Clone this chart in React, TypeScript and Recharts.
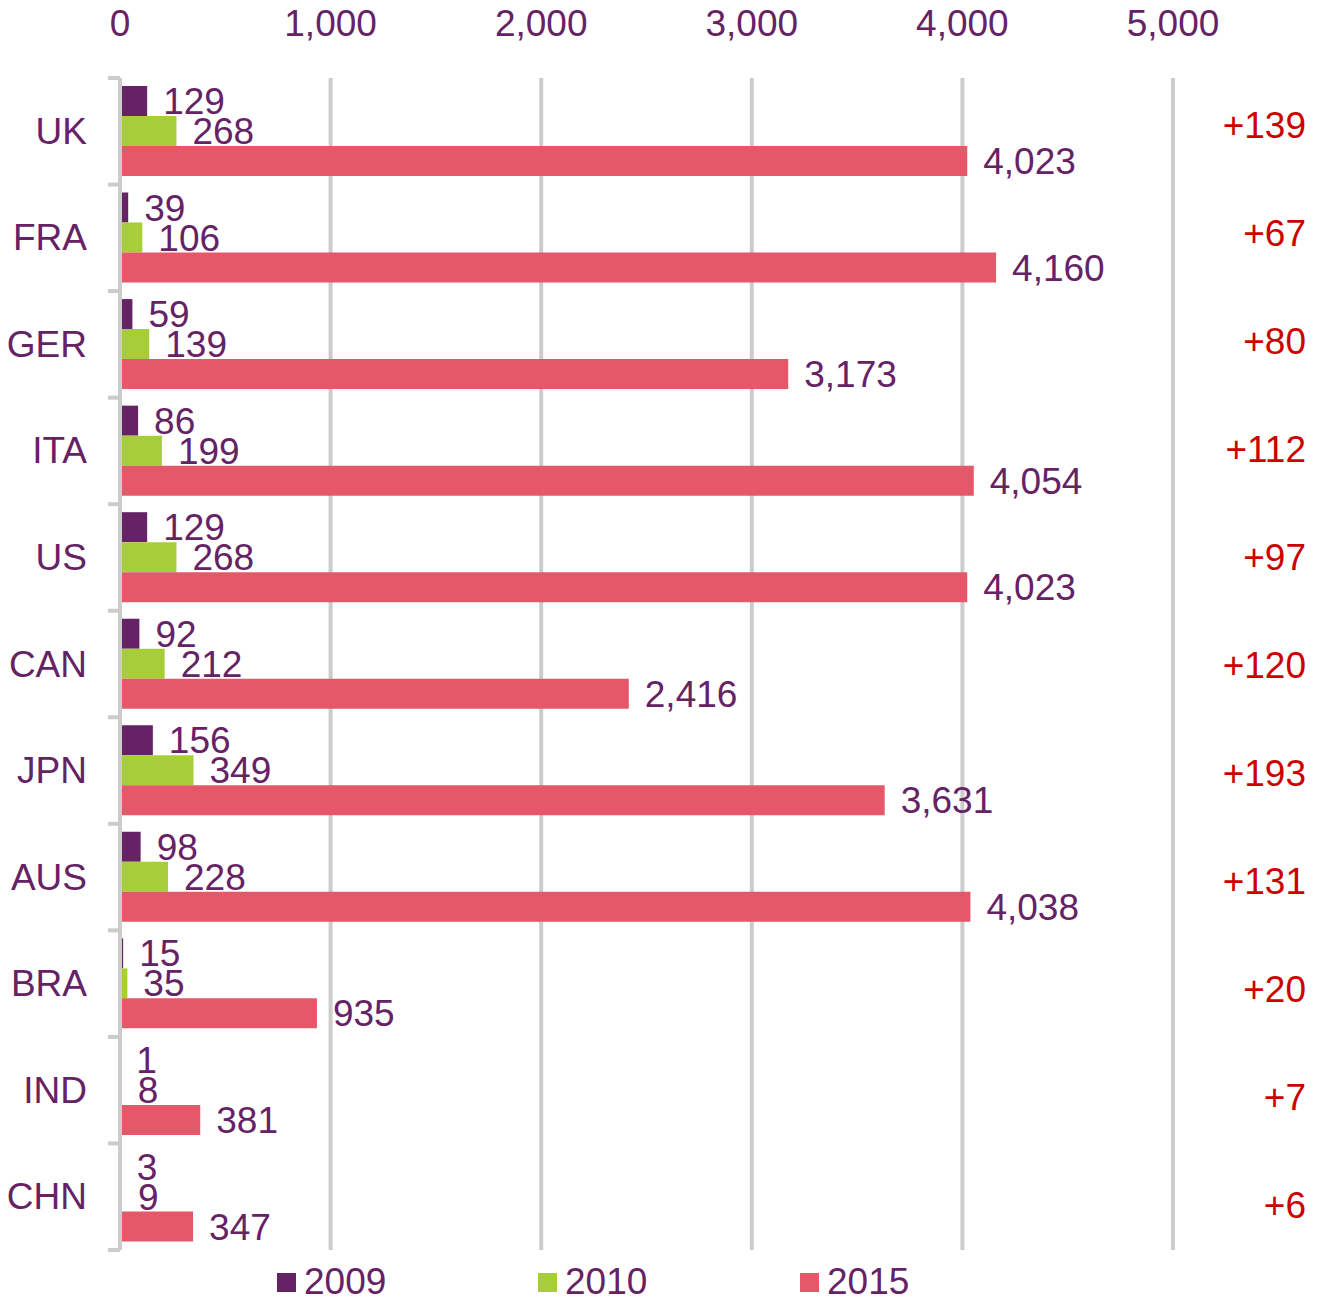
import React from "react";
import { BarChart, Bar, XAxis, YAxis, CartesianGrid, LabelList, Legend } from "recharts";

const countries = ["UK", "FRA", "GER", "ITA", "US", "CAN", "JPN", "AUS", "BRA", "IND", "CHN"];
const values2009 = [129, 39, 59, 86, 129, 92, 156, 98, 15, 1, 3];
const values2010 = [268, 106, 139, 199, 268, 212, 349, 228, 35, 8, 9];
const values2015 = [4023, 4160, 3173, 4054, 4023, 2416, 3631, 4038, 935, 381, 347];
const changeLabels = ["+139", "+67", "+80", "+112", "+97", "+120", "+193", "+131", "+20", "+7", "+6"];
const xTicks = [0, 1000, 2000, 3000, 4000, 5000];

const PURPLE = "#652265";
const GREEN = "#A7CE38";
const RED = "#E55869";
const TEXT = "#652265";
const CHANGE_RED = "#CC0000";
const GRID = "#CCCCCC";
const FONT = "'Liberation Sans', Arial, sans-serif";
const FS = 37;

const W = 1321;
const H = 1298;
const TOP = 78;
const BOTTOM = 48;
const BAND = (H - TOP - BOTTOM) / countries.length;

const data = countries.map((name, i) => ({
  name,
  y2009: values2009[i],
  y2010: values2010[i],
  y2015: values2015[i],
  change: changeLabels[i],
}));

const fmt = (v: any) => Number(v).toLocaleString("en-US");

const LeftTick = (props: any) => {
  const { x, y, payload, index } = props;
  const axisX = x + 33;
  return (
    <g>
      <text x={x} y={y} textAnchor="end" dominantBaseline="central" fill={TEXT} fontSize={FS} fontFamily={FONT}>
        {payload.value}
      </text>
      <line x1={axisX - 12} x2={axisX} y1={y - BAND / 2} y2={y - BAND / 2} stroke={GRID} strokeWidth={4} />
      {index === countries.length - 1 && (
        <line x1={axisX - 12} x2={axisX} y1={y + BAND / 2} y2={y + BAND / 2} stroke={GRID} strokeWidth={4} />
      )}
    </g>
  );
};

const RightTick = (props: any) => {
  const { x, y, index } = props;
  return (
    <text x={x + 133} y={y} textAnchor="end" dominantBaseline="central" fill={CHANGE_RED} fontSize={FS} fontFamily={FONT}>
      {changeLabels[index]}
    </text>
  );
};

const legendItems = [
  { label: "2009", color: PURPLE, left: 277 },
  { label: "2010", color: GREEN, left: 538 },
  { label: "2015", color: RED, left: 800 },
];

const LegendContent = () => (
  <div style={{ position: "relative", width: W, height: 30 }}>
    {legendItems.map((it) => (
      <div key={it.label} style={{ position: "absolute", left: it.left, top: 0, height: 30, display: "flex", alignItems: "center" }}>
        <div style={{ width: 19, height: 19, background: it.color, marginRight: 8 }} />
        <div style={{ color: TEXT, fontSize: FS, fontFamily: FONT, lineHeight: "30px", height: 30 }}>{it.label}</div>
      </div>
    ))}
  </div>
);

export default function App() {
  return (
    <div style={{ position: "absolute", left: 0, top: 0, width: W, height: H, background: "#fff", overflow: "hidden" }}>
      <BarChart
        width={W}
        height={H}
        data={data}
        layout="vertical"
        margin={{ top: 0, right: 0, bottom: BOTTOM, left: 0 }}
        barSize={30}
        barGap={0}
      >
        <CartesianGrid horizontal={false} vertical={true} stroke={GRID} strokeWidth={4} />
        <XAxis
          type="number"
          orientation="top"
          domain={[0, 5000]}
          ticks={xTicks}
          height={TOP}
          axisLine={false}
          tickLine={false}
          tickSize={0}
          tickMargin={42}
          tickFormatter={fmt}
          tick={{ fill: TEXT, fontSize: FS, fontFamily: FONT }}
          interval={0}
        />
        <YAxis
          yAxisId="left"
          type="category"
          dataKey="name"
          width={120}
          axisLine={{ stroke: GRID, strokeWidth: 4 }}
          tickLine={false}
          tickSize={0}
          tickMargin={33}
          tick={<LeftTick />}
          interval={0}
        />
        <YAxis
          yAxisId="right"
          orientation="right"
          type="category"
          dataKey="name"
          width={148}
          axisLine={false}
          tickLine={false}
          tickSize={0}
          tickMargin={0}
          padding={{ top: -6, bottom: -9 }}
          tick={<RightTick />}
          interval={0}
        />
        <Legend
          layout="horizontal"
          verticalAlign="middle"
          align="center"
          content={<LegendContent />}
          wrapperStyle={{ position: "absolute", top: 1267, left: 0, width: W, height: 30 }}
        />
        <Bar yAxisId="left" dataKey="y2009" name="2009" fill={PURPLE} isAnimationActive={false}>
          <LabelList dataKey="y2009" position="right" offset={16} formatter={fmt} fill={TEXT} fontSize={FS} fontFamily={FONT} />
        </Bar>
        <Bar yAxisId="left" dataKey="y2010" name="2010" fill={GREEN} isAnimationActive={false}>
          <LabelList dataKey="y2010" position="right" offset={16} formatter={fmt} fill={TEXT} fontSize={FS} fontFamily={FONT} />
        </Bar>
        <Bar yAxisId="left" dataKey="y2015" name="2015" fill={RED} isAnimationActive={false}>
          <LabelList dataKey="y2015" position="right" offset={16} formatter={fmt} fill={TEXT} fontSize={FS} fontFamily={FONT} />
        </Bar>
      </BarChart>
    </div>
  );
}
